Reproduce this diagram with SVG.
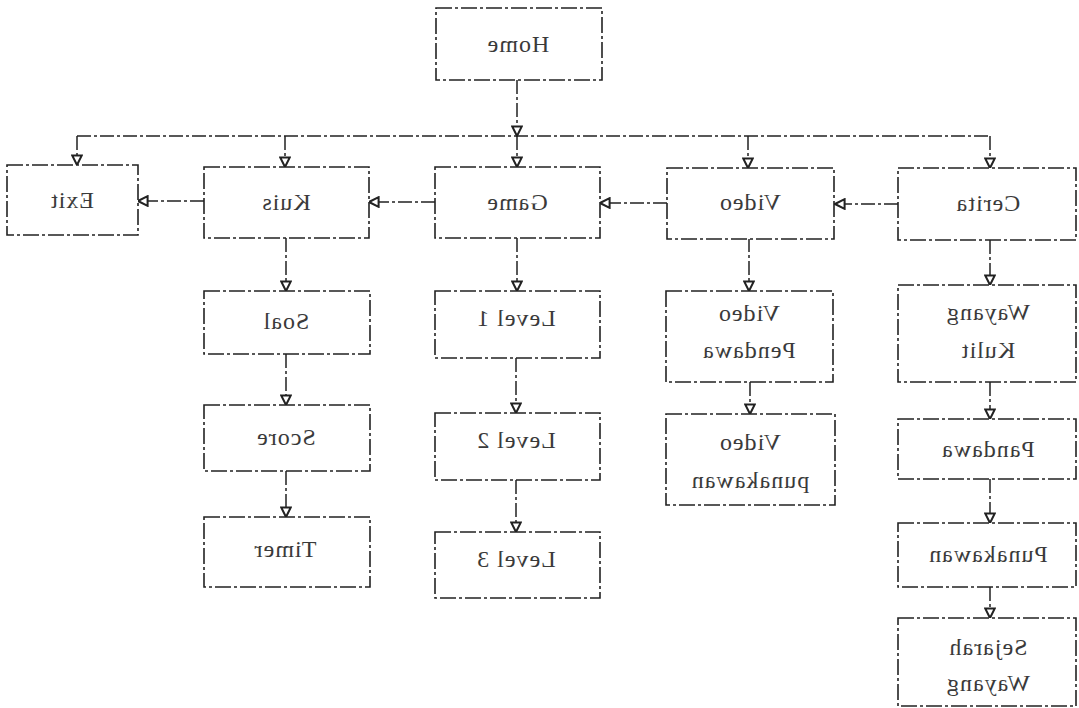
<svg xmlns="http://www.w3.org/2000/svg" width="1079" height="708" viewBox="0 0 1079 708">
<defs>
<marker id="tri" viewBox="0 0 10 10" refX="9" refY="5" markerWidth="12" markerHeight="12" markerUnits="userSpaceOnUse" orient="auto">
<path d="M1,1 L9,5 L1,9 Z" fill="#fff" stroke="#222" stroke-width="1.7"/>
</marker>
</defs>
<style>
.box{fill:#fff;stroke:#222;stroke-width:1.6;stroke-dasharray:16 3 3 3}
.ln{fill:none;stroke:#222;stroke-width:1.5;stroke-dasharray:14 3 3 3}
.ar{marker-end:url(#tri)}
text{font-family:"Liberation Serif","DejaVu Serif",serif;font-size:24px;letter-spacing:1px;fill:#3a3a3a;text-anchor:middle}
</style>
<rect width="1079" height="708" fill="#fff"/>
<g id="connectors">
<path class="ln ar" d="M517,80 V136"/>
<path class="ln" d="M77,136 H990"/>
<path class="ln ar" d="M77,136 V165"/>
<path class="ln ar" d="M285,136 V167"/>
<path class="ln ar" d="M517,136 V167"/>
<path class="ln ar" d="M748,136 V168"/>
<path class="ln ar" d="M990,136 V168"/>
<path class="ln ar" d="M204,201 H138"/>
<path class="ln ar" d="M435,202 H369"/>
<path class="ln ar" d="M667,203 H600"/>
<path class="ln ar" d="M898,204 H835"/>
<path class="ln ar" d="M286,238 V291"/>
<path class="ln ar" d="M286,354 V405"/>
<path class="ln ar" d="M286,471 V517"/>
<path class="ln ar" d="M517,238 V291"/>
<path class="ln ar" d="M516,358 V413"/>
<path class="ln ar" d="M516,480 V532"/>
<path class="ln ar" d="M749,238 V291"/>
<path class="ln ar" d="M750,382 V414"/>
<path class="ln ar" d="M990,240 V285"/>
<path class="ln ar" d="M990,382 V419"/>
<path class="ln ar" d="M990,479 V523"/>
<path class="ln ar" d="M990,587 V618"/>
</g>
<g id="home"><rect class="box" x="436" y="8" width="166" height="72"/><text transform="translate(518,52) scale(-1,1)">Home</text></g>
<g id="exit"><rect class="box" x="7" y="165" width="131" height="70"/><text transform="translate(72,208) scale(-1,1)">Exit</text></g>
<g id="kuis"><rect class="box" x="204" y="167" width="165" height="71"/><text transform="translate(286,210) scale(-1,1)">Kuis</text></g>
<g id="game"><rect class="box" x="435" y="167" width="165" height="71"/><text transform="translate(517,210) scale(-1,1)">Game</text></g>
<g id="video"><rect class="box" x="667" y="168" width="167" height="71"/><text transform="translate(750,210) scale(-1,1)">Video</text></g>
<g id="cerita"><rect class="box" x="898" y="168" width="178" height="72"/><text transform="translate(988,211) scale(-1,1)">Cerita</text></g>
<g id="soal"><rect class="box" x="204" y="291" width="166" height="63"/><text transform="translate(286,329) scale(-1,1)">Soal</text></g>
<g id="score"><rect class="box" x="204" y="405" width="166" height="66"/><text transform="translate(286,445) scale(-1,1)">Score</text></g>
<g id="timer"><rect class="box" x="204" y="517" width="166" height="70"/><text transform="translate(285,557) scale(-1,1)">Timer</text></g>
<g id="level1"><rect class="box" x="435" y="291" width="165" height="67"/><text transform="translate(516,326) scale(-1,1)">Level 1</text></g>
<g id="level2"><rect class="box" x="435" y="413" width="165" height="67"/><text transform="translate(516,448) scale(-1,1)">Level 2</text></g>
<g id="level3"><rect class="box" x="435" y="532" width="165" height="66"/><text transform="translate(516,567) scale(-1,1)">Level 3</text></g>
<g id="video-pendawa"><rect class="box" x="666" y="291" width="167" height="91"/><text transform="translate(749,321) scale(-1,1)">Video</text><text transform="translate(749,358) scale(-1,1)">Pendawa</text></g>
<g id="video-punakawan"><rect class="box" x="666" y="414" width="169" height="91"/><text transform="translate(750,450) scale(-1,1)">Video</text><text transform="translate(750,488) scale(-1,1)">punakawan</text></g>
<g id="wayang-kulit"><rect class="box" x="898" y="285" width="178" height="97"/><text transform="translate(988,320) scale(-1,1)">Wayang</text><text transform="translate(988,358) scale(-1,1)">Kulit</text></g>
<g id="pandawa"><rect class="box" x="898" y="419" width="178" height="60"/><text transform="translate(988,457) scale(-1,1)">Pandawa</text></g>
<g id="punakawan"><rect class="box" x="898" y="523" width="178" height="64"/><text transform="translate(988,562) scale(-1,1)">Punakawan</text></g>
<g id="sejarah-wayang"><rect class="box" x="898" y="618" width="178" height="88"/><text transform="translate(988,655) scale(-1,1)">Sejarah</text><text transform="translate(988,691) scale(-1,1)">Wayang</text></g>
</svg>
